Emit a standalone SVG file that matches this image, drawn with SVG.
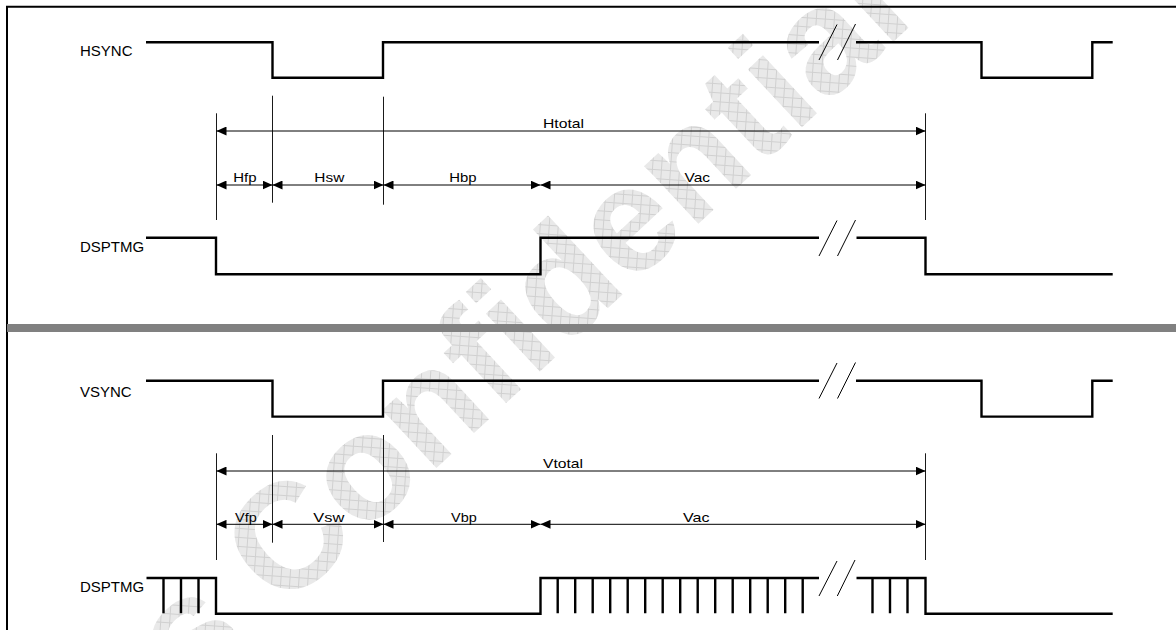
<svg xmlns="http://www.w3.org/2000/svg" width="1176" height="630" viewBox="0 0 1176 630">
<style>
.lbl{font-family:"Liberation Sans",Arial,sans-serif;font-size:15px;fill:#000}
.dim{font-family:"Liberation Sans",Arial,sans-serif;font-size:13px;fill:#000}
.wave{fill:none;stroke:#000;stroke-width:2.4;stroke-linejoin:miter;stroke-linecap:butt}
.brk{fill:none;stroke:#000;stroke-width:1}
.ext{fill:none;stroke:#1a1a1a;stroke-width:1}
.arr{fill:none;stroke:#000;stroke-width:1;marker-start:url(#ah);marker-end:url(#ah)}
.wm{font-family:"Liberation Sans",Arial,sans-serif;font-weight:bold;font-size:150px;fill:url(#grid);stroke:none}
</style>
<defs>
<marker id="ah" viewBox="0 0 10 9" markerUnits="userSpaceOnUse" markerWidth="10" markerHeight="9" refX="10" refY="4.5" orient="auto-start-reverse">
<path d="M0,0 L10,4.5 L0,9 Z" fill="#000"/>
</marker>
<pattern id="grid" patternUnits="userSpaceOnUse" width="9" height="9" patternTransform="rotate(-43)">
<rect width="9" height="9" fill="#e9e9e9"/>
<path d="M0,0.5 H9 M0.5,0 V9" stroke="#d0d0d0" stroke-width="1"/>
</pattern>
</defs>
<rect width="1176" height="630" fill="#fff"/>
<g id="watermark">
<text class="wm" transform="translate(191,697) rotate(-43)">s Confidential</text>
</g>
<g id="frame">
<path d="M7,630 V6.7 H1176" fill="none" stroke="#000" stroke-width="2"/>
<rect x="7" y="324" width="1169" height="8" fill="#808080"/>
</g>
<g id="hsync">
<text class="lbl" x="80" y="56">HSYNC</text>
<path class="wave" d="M146,42.3 H272.5 V77.7 H383 V42.3 H819"/>
<path class="wave" d="M856,42.3 H981.5 V77.7 H1092.3 V42.3 H1112.7"/>
<path class="brk" d="M819,60 L837,24.5 M837.5,60 L855.5,24"/>
</g>
<g id="dsptmg-h">
<text class="lbl" x="80" y="252">DSPTMG</text>
<path class="wave" d="M146,237.7 H216 V274.3 H540.5 V237.7 H819"/>
<path class="wave" d="M856.5,237.7 H925.5 V274.3 H1112.7"/>
<path class="brk" d="M819,256 L837,220.5 M837.5,256 L855.5,220"/>
</g>
<g id="vsync">
<text class="lbl" x="80" y="396.7">VSYNC</text>
<path class="wave" d="M146,380.8 H272.5 V416.6 H383 V380.8 H819"/>
<path class="wave" d="M856,380.8 H981.5 V416.6 H1092.3 V380.8 H1112.7"/>
<path class="brk" d="M819,398.5 L837,363 M837.5,398.5 L855.5,362.5"/>
</g>
<g id="dsptmg-v">
<text class="lbl" x="80" y="591.5">DSPTMG</text>
<path class="wave" d="M146.5,578 H216 V613.7 H540.5 V578 H819"/>
<path class="wave" d="M856.5,578 H925.5 V613.7 H1112.7"/>
<path class="wave" d="M163.5,578 V613.3 M181,578 V613.3 M198.5,578 V613.3 M557.7,578 V613.3 M575.2,578 V613.3 M592.7,578 V613.3 M610.2,578 V613.3 M627.7,578 V613.3 M645.2,578 V613.3 M662.7,578 V613.3 M680.2,578 V613.3 M697.7,578 V613.3 M715.2,578 V613.3 M732.7,578 V613.3 M750.2,578 V613.3 M767.7,578 V613.3 M785.2,578 V613.3 M802.7,578 V613.3 M872.5,578 V613.3 M890,578 V613.3 M907.5,578 V613.3"/>
<path class="brk" d="M819,596 L837,561 M837.3,596 L855,560"/>
</g>
<g id="h-timing-labels">
<text class="dim" x="543" y="128.3" textLength="41" lengthAdjust="spacingAndGlyphs">Htotal</text>
<text class="dim" x="233.3" y="181.7" textLength="23.3" lengthAdjust="spacingAndGlyphs">Hfp</text>
<text class="dim" x="314.3" y="181.7" textLength="30" lengthAdjust="spacingAndGlyphs">Hsw</text>
<text class="dim" x="449.3" y="181.7" textLength="27.3" lengthAdjust="spacingAndGlyphs">Hbp</text>
<text class="dim" x="684.5" y="181.7" textLength="25.5" lengthAdjust="spacingAndGlyphs">Vac</text>
</g>
<g id="v-timing-labels">
<text class="dim" x="543" y="467.7" textLength="40" lengthAdjust="spacingAndGlyphs">Vtotal</text>
<text class="dim" x="235" y="521.7" textLength="21.7" lengthAdjust="spacingAndGlyphs">Vfp</text>
<text class="dim" x="313.3" y="521.7" textLength="31" lengthAdjust="spacingAndGlyphs">Vsw</text>
<text class="dim" x="451" y="521.7" textLength="25.7" lengthAdjust="spacingAndGlyphs">Vbp</text>
<text class="dim" x="683" y="521.7" textLength="26.5" lengthAdjust="spacingAndGlyphs">Vac</text>
</g>
<g id="connectors">
<path class="ext" d="M216.5,113.3 V220 M272.5,95.7 V202.7 M383.5,96.7 V204.7 M925.5,113.3 V220"/>
<path class="ext" d="M216.5,453.3 V560 M272.5,435 V542.7 M383.5,435 V542 M925.5,453.3 V560"/>
<path class="arr" d="M216.5,131 H925.5"/>
<path class="arr" d="M216.5,185 H272.5"/>
<path class="arr" d="M272.5,185 H383.5"/>
<path class="arr" d="M383.5,185 H540.5"/>
<path class="arr" d="M540.5,185 H925.5"/>
<path class="arr" d="M216.5,471 H925.5"/>
<path class="arr" d="M216.5,524.3 H272.5"/>
<path class="arr" d="M272.5,524.3 H383.5"/>
<path class="arr" d="M383.5,524.3 H540.5"/>
<path class="arr" d="M540.5,524.3 H925.5"/>
</g>
</svg>
